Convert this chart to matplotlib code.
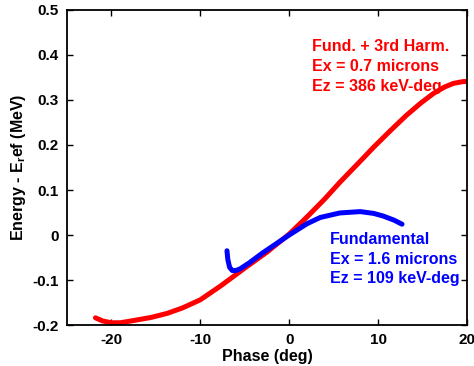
import numpy as np
import matplotlib
matplotlib.use("Agg")
import matplotlib.pyplot as plt

plt.rcParams['font.family'] = ['Liberation Sans', 'DejaVu Sans']
plt.rcParams['font.weight'] = 'bold'
plt.rcParams['axes.unicode_minus'] = False
plt.rcParams['mathtext.fontset'] = 'custom'
plt.rcParams['mathtext.rm'] = 'Liberation Sans:bold'
plt.rcParams['mathtext.bf'] = 'Liberation Sans:bold'
plt.rcParams['mathtext.it'] = 'Liberation Sans:bold'

# fundamental + 3rd harmonic (red)
phase_3h = [-21.8, -21, -20, -19, -17.5, -15.5, -13.7, -12, -10, -7.7, -5.1,
            -2.5, 0, 2, 4, 5.7, 8, 9.5, 11.5, 13.2, 14.8, 16.2, 17.5, 18.5,
            19.6, 20]
energy_3h = [-0.184, -0.191, -0.195, -0.195, -0.190, -0.183, -0.174, -0.162,
             -0.144, -0.113, -0.075, -0.038, 0.002, 0.040, 0.080, 0.117, 0.164,
             0.195, 0.234, 0.266, 0.293, 0.314, 0.329, 0.337, 0.341, 0.341]

# fundamental only (blue)
phase_fund = [-7.0, -6.9, -6.7, -6.4, -6.0, -5.5, -4.5, -3.0, -1.5, 0, 2, 3.5,
              5.7, 8, 9.5, 10.6, 11.8, 12.7]
energy_fund = [-0.035, -0.055, -0.072, -0.079, -0.079, -0.075, -0.062, -0.040,
               -0.020, 0.0, 0.025, 0.039, 0.049, 0.052, 0.048, 0.042, 0.033,
               0.024]

red_text = ["Fund. + 3rd Harm.", "Ex = 0.7 microns", "Ez = 386 keV-deg"]
blue_text = ["Fundamental", "Ex = 1.6 microns", "Ez = 109 keV-deg"]

fig = plt.figure(figsize=(4.74, 3.66), dpi=100)
ax = fig.add_axes([0.1414, 0.112, 0.8436, 0.8607])

ax.plot(phase_3h, energy_3h, color='#ff0000', lw=3.6, solid_capstyle='round',
        solid_joinstyle='round')
ax.plot(phase_fund, energy_fund, color='#0000ff', lw=3.6, solid_capstyle='round',
        solid_joinstyle='round')

for i, s in enumerate(red_text):
    ax.text(2.6, 0.418 - i * 0.0445, s, color='#ff0000', fontsize=11.5,
            fontweight='bold', va='center', ha='left')
for i, s in enumerate(blue_text):
    ax.text(4.6, -0.011 - i * 0.0425, s, color='#0000ff', fontsize=11.5,
            fontweight='bold', va='center', ha='left')

ax.set_xlim(-25, 20)
ax.set_ylim(-0.2, 0.5)
ax.set_xticks([-20, -10, 0, 10, 20])
ax.set_yticks(np.arange(-0.2, 0.51, 0.1))
ax.set_yticklabels(['-0.2', '-0.1', '0', '0.1', '0.2', '0.3', '0.4', '0.5'])
ax.tick_params(direction='in', top=True, right=True, length=4, width=1,
               labelsize=11, pad=6)
for sp in ax.spines.values():
    sp.set_linewidth(1.3)

ax.set_xlabel('Phase (deg)', fontsize=11.5, fontweight='bold', labelpad=1)
ax.set_ylabel(r'Energy - E$_{\mathrm{r}}$ef (MeV)', fontsize=11.5,
              fontweight='bold', labelpad=3)

fig.savefig('out.png', dpi=100)
